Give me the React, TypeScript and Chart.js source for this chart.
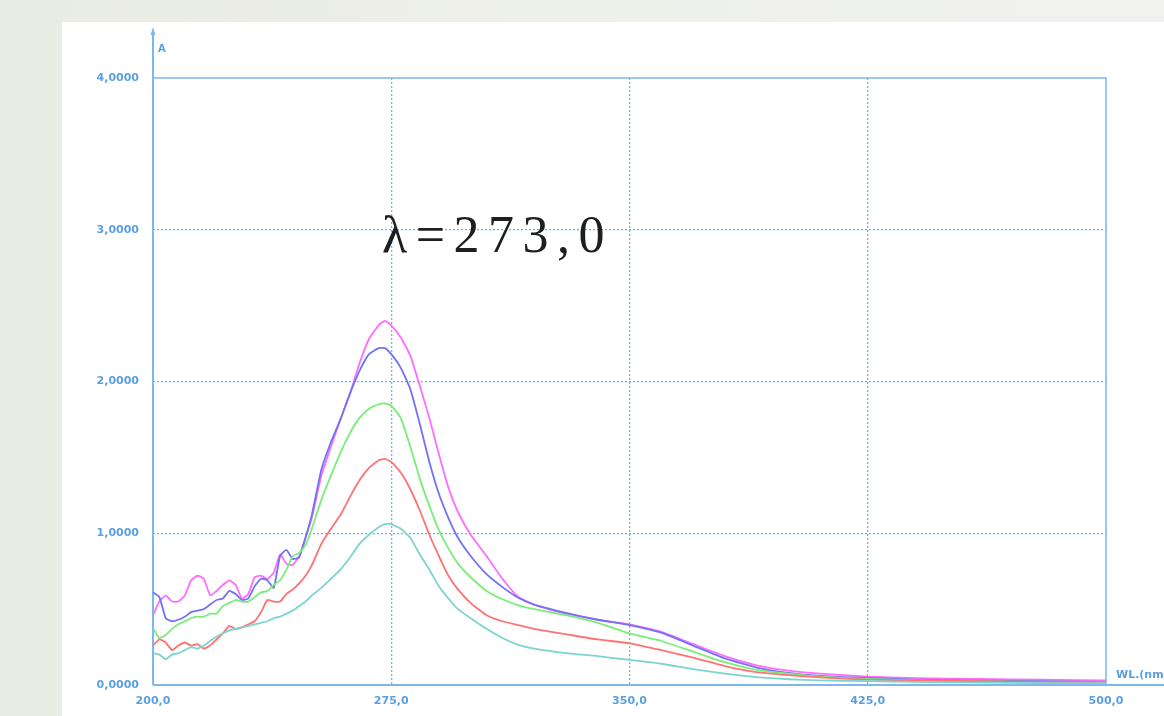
import React, { useEffect, useRef } from "react";
import { Chart, registerables } from "chart.js";

Chart.register(...registerables);

// Wavelength grid (nm)
const WAVELENGTH = [
  200, 202, 204, 206, 208, 210, 212, 214, 216, 218, 220, 222, 224, 226, 228, 230, 232, 234, 236, 238, 240, 242, 244, 246, 248, 250,
  253, 256, 259, 262, 265, 268, 271, 273, 275, 278, 281, 284, 287, 290, 293, 296, 300,
  305, 310, 315, 320, 330, 340, 350, 360, 370, 380, 390, 400, 410, 425, 440, 460, 480, 500,
];

const MAGENTA = [
  0.46, 0.55, 0.59, 0.55, 0.55, 0.59, 0.69, 0.72, 0.70, 0.59, 0.62, 0.66, 0.69, 0.66, 0.57, 0.60, 0.71, 0.72, 0.70, 0.74, 0.86, 0.80, 0.79, 0.85, 0.97, 1.10,
  1.38, 1.57, 1.75, 1.92, 2.12, 2.28, 2.37, 2.40, 2.37, 2.29, 2.17, 1.97, 1.76, 1.52, 1.30, 1.14, 0.99,
  0.85, 0.70, 0.58, 0.53, 0.47, 0.43, 0.40, 0.35, 0.27, 0.19, 0.13, 0.095, 0.075, 0.055, 0.045, 0.04, 0.035, 0.03,
];

const BLUE = [
  0.61, 0.58, 0.44, 0.42, 0.43, 0.45, 0.48, 0.49, 0.50, 0.53, 0.56, 0.57, 0.62, 0.60, 0.56, 0.57, 0.65, 0.70, 0.69, 0.64, 0.85, 0.89, 0.83, 0.84, 0.97, 1.12,
  1.42, 1.60, 1.75, 1.92, 2.07, 2.18, 2.22, 2.22, 2.18, 2.09, 1.95, 1.72, 1.47, 1.26, 1.10, 0.97, 0.85,
  0.73, 0.645, 0.575, 0.53, 0.475, 0.43, 0.395, 0.345, 0.26, 0.175, 0.115, 0.08, 0.06, 0.046, 0.035, 0.03, 0.025, 0.02,
];

const GREEN = [
  0.375, 0.31, 0.33, 0.37, 0.40, 0.42, 0.44, 0.45, 0.45, 0.47, 0.47, 0.52, 0.54, 0.56, 0.55, 0.55, 0.58, 0.61, 0.62, 0.66, 0.69, 0.76, 0.85, 0.87, 0.92, 1.03,
  1.22, 1.38, 1.53, 1.66, 1.76, 1.82, 1.85, 1.855, 1.84, 1.76, 1.57, 1.36, 1.18, 1.02, 0.90, 0.80, 0.71,
  0.62, 0.565, 0.525, 0.50, 0.46, 0.41, 0.34, 0.29, 0.22, 0.15, 0.10, 0.075, 0.055, 0.04, 0.03, 0.025, 0.02, 0.02,
];

const RED = [
  0.26, 0.30, 0.28, 0.23, 0.26, 0.28, 0.26, 0.27, 0.24, 0.26, 0.30, 0.34, 0.39, 0.37, 0.38, 0.40, 0.42, 0.48, 0.56, 0.55, 0.55, 0.60, 0.63, 0.67, 0.72, 0.79,
  0.93, 1.03, 1.12, 1.24, 1.35, 1.43, 1.48, 1.49, 1.47, 1.40, 1.29, 1.15, 0.99, 0.85, 0.72, 0.63, 0.54,
  0.46, 0.42, 0.395, 0.37, 0.335, 0.30, 0.275, 0.23, 0.18, 0.125, 0.085, 0.065, 0.05, 0.035, 0.03, 0.025, 0.02, 0.02,
];

const TEAL = [
  0.21, 0.20, 0.17, 0.20, 0.21, 0.23, 0.25, 0.24, 0.26, 0.29, 0.32, 0.34, 0.36, 0.37, 0.38, 0.39, 0.40, 0.41, 0.42, 0.44, 0.45, 0.47, 0.49, 0.52, 0.55, 0.59,
  0.64, 0.70, 0.76, 0.84, 0.93, 0.99, 1.04, 1.06, 1.06, 1.03, 0.97, 0.86, 0.76, 0.65, 0.57, 0.50, 0.44,
  0.37, 0.31, 0.265, 0.24, 0.21, 0.19, 0.165, 0.14, 0.105, 0.075, 0.052, 0.038, 0.03, 0.026, 0.02, 0.015, 0.013, 0.012,
];

const SERIES = [
  { name: "S5", values: TEAL, color: "#7dd3cf" },
  { name: "S4", values: RED, color: "#ff7272" },
  { name: "S3", values: GREEN, color: "#78ee78" },
  { name: "S2", values: BLUE, color: "#7272f6" },
  { name: "S1", values: MAGENTA, color: "#ff6cff" },
];

const X_MIN = 200;
const X_MAX = 500;
const X_STEP = 75;
const Y_MIN = 0;
const Y_MAX = 4;
const Y_STEP = 1;
const ANNOTATION = "λ=273,0";
const Y_TITLE = "A";
const X_TITLE = "WL.(nm)";

const AXIS_COLOR = "#7db8ec";
const GRID_COLOR = "#74b2ec";
const LABEL_COLOR = "#5a9fe2";
const TICK_FONT = { family: "DejaVu Sans", size: 11, weight: "bold" as const };

const framePlugin = {
  id: "frame",
  beforeDatasetsDraw(chart: any) {
    const { ctx, chartArea, scales } = chart;
    const x0 = scales.x.getPixelForValue(X_MIN);
    const y0 = scales.y.getPixelForValue(Y_MIN);
    ctx.save();
    ctx.strokeStyle = AXIS_COLOR;
    ctx.lineWidth = 1.5;
    ctx.beginPath();
    ctx.moveTo(chartArea.left, chartArea.top);
    ctx.lineTo(chartArea.right, chartArea.top);
    ctx.lineTo(chartArea.right, chartArea.bottom);
    ctx.stroke();
    ctx.lineWidth = 2;
    ctx.beginPath();
    ctx.moveTo(x0, y0);
    ctx.lineTo(x0, 31);
    ctx.stroke();
    ctx.fillStyle = AXIS_COLOR;
    ctx.beginPath();
    ctx.moveTo(x0, 27);
    ctx.lineTo(x0 - 2.5, 35);
    ctx.lineTo(x0 + 2.5, 35);
    ctx.closePath();
    ctx.fill();
    ctx.beginPath();
    ctx.moveTo(x0, y0);
    ctx.lineTo(chart.width, y0);
    ctx.stroke();
    ctx.fillStyle = LABEL_COLOR;
    ctx.font = 'bold 10px "DejaVu Sans"';
    ctx.textAlign = "left";
    ctx.textBaseline = "alphabetic";
    ctx.fillText(Y_TITLE, x0 + 5, 52);
    ctx.font = 'bold 11px "DejaVu Sans"';
    ctx.fillText(X_TITLE, chartArea.right + 10, y0 - 7);
    ctx.restore();
  },
  afterDraw(chart: any) {
    const { ctx } = chart;
    ctx.save();
    ctx.fillStyle = "#1e1e1e";
    ctx.font = '52px "Liberation Serif"';
    ctx.textAlign = "left";
    ctx.textBaseline = "alphabetic";
    (ctx as any).letterSpacing = "8.5px";
    ctx.fillText(ANNOTATION, 382, 252);
    ctx.restore();
  },
};

export default function App() {
  const canvasRef = useRef<HTMLCanvasElement | null>(null);

  useEffect(() => {
    const canvas = canvasRef.current;
    if (!canvas) return;
    const chart = new Chart(canvas, {
      type: "line",
      data: {
        datasets: SERIES.map((s) => ({
          label: s.name,
          data: WAVELENGTH.map((w, i) => ({ x: w, y: s.values[i] })),
          borderColor: s.color,
          borderWidth: 1.8,
          pointRadius: 0,
          tension: 0.15,
          fill: false,
        })),
      },
      options: {
        animation: false,
        responsive: false,
        devicePixelRatio: 1,
        layout: { padding: { top: 78, right: 58, left: 0, bottom: 0 } },
        plugins: { legend: { display: false }, tooltip: { enabled: false } },
        scales: {
          x: {
            type: "linear",
            min: X_MIN,
            max: X_MAX,
            afterFit: (scale: any) => {
              scale.height = 31;
            },
            ticks: {
              stepSize: X_STEP,
              padding: 10,
              color: LABEL_COLOR,
              font: TICK_FONT,
              callback: (v: any) => Number(v).toFixed(1).replace(".", ","),
            },
            grid: {
              drawTicks: false,
              lineWidth: 1.3,
              color: (c: any) =>
                c.tick && (c.tick.value === X_MIN || c.tick.value === X_MAX) ? "rgba(0,0,0,0)" : GRID_COLOR,
            },
            border: { display: false, dash: [2, 2] },
          },
          y: {
            type: "linear",
            min: Y_MIN,
            max: Y_MAX,
            afterFit: (scale: any) => {
              scale.width = 153;
            },
            ticks: {
              stepSize: Y_STEP,
              padding: 14,
              color: LABEL_COLOR,
              font: TICK_FONT,
              callback: (v: any) => Number(v).toFixed(4).replace(".", ","),
            },
            grid: {
              drawTicks: false,
              lineWidth: 1.3,
              color: (c: any) =>
                c.tick && (c.tick.value === Y_MIN || c.tick.value === Y_MAX) ? "rgba(0,0,0,0)" : GRID_COLOR,
            },
            border: { display: false, dash: [2, 2] },
          },
        },
      },
      plugins: [framePlugin],
    });
    return () => chart.destroy();
  }, []);

  return (
    <div
      style={{
        position: "fixed",
        left: 0,
        top: 0,
        width: 1164,
        height: 716,
        overflow: "hidden",
        background: "linear-gradient(90deg, #e9ece2 0%, #eef0ea 50%, #f1f2f0 100%)",
      }}
    >
      <div
        style={{
          position: "absolute",
          left: 62,
          top: 22,
          right: 0,
          bottom: 0,
          background: "#ffffff",
        }}
      />
      <canvas
        ref={canvasRef}
        width={1164}
        height={716}
        style={{ position: "absolute", left: 0, top: 0, width: 1164, height: 716 }}
      />
    </div>
  );
}
